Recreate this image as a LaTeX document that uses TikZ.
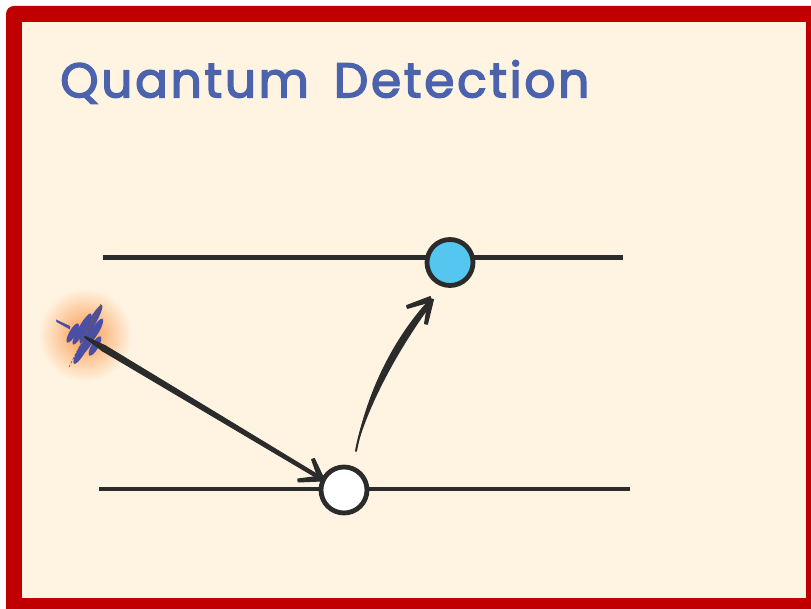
\documentclass[tikz,border=0pt]{standalone}
\usepackage{fontspec}
\usetikzlibrary{arrows.meta,calc}
\newfontfamily\titlefont[FakeBold=3,LetterSpace=5.5,Ligatures=NoCommon,WordSpace=1.6]{Poppins}
\definecolor{paper}{HTML}{FFF4E2}
\definecolor{frame}{HTML}{C00000}
\definecolor{ink}{HTML}{2B2B2B}
\definecolor{titleblue}{HTML}{4A63AC}
\definecolor{packetblue}{HTML}{4A4FA5}
\definecolor{excited}{HTML}{55C6F0}
\definecolor{glow}{HTML}{FA984C}
\tikzset{
  x=0.75pt,y=-0.75pt,
  level/.style={draw=ink,line width=3.4pt},
  atom/.style={circle,draw=ink,line width=3.6pt,minimum size=34.5pt,inner sep=0pt},
  conn/.style={draw=ink,line width=1.5pt,line cap=round},
  barb/.style={-{Straight Barb[length=3pt,width=4pt,line width=1.5pt,round]}},
  wave/.style={fill=packetblue,draw=none},
  hatch/.style={draw=brown!70!black,line width=0.5pt,dash pattern=on 2pt off 1.2pt},
  taper/.style={fill=ink,draw=ink,line width=0.8pt,line join=round},
}
% tapered stroke between two named points: half widths in pt
\newcommand{\taperline}[4]{%
  \path[taper] ($(#1)!#3!90:(#2)$) -- ($(#2)!#4!-90:(#1)$) -- ($(#2)!#4!90:(#1)$) -- ($(#1)!#3!-90:(#2)$) -- cycle;}
\begin{document}
\begin{tikzpicture}
\useasboundingbox (0,0) rectangle (811,609);
\fill[white] (0,0) rectangle (811,609);
\begin{scope}
\clip (0,0) rectangle (811,609);
\fill[frame,rounded corners=6pt] (6,6) rectangle (830,630);
\end{scope}
\fill[paper] (22,22) rectangle (806,598);

\node[anchor=west,text=titleblue,font=\titlefont\fontsize{36.5}{36.5}\selectfont,inner sep=0pt] (title) at (60,82) {Quantum Detection};

% levels
\coordinate (topL) at (103,257.5);
\coordinate (topR) at (623,257.5);
\coordinate (botL) at (99,489);
\coordinate (botR) at (630,489);
\draw[level] (topL) -- (topR);
\draw[level] (botL) -- (botR);

% atoms
\node[atom,fill=excited] (upper) at (450,262.5) {};
\node[atom,fill=white] (lower) at (344,490) {};

% photon glow
\shade[inner color=glow,outer color=paper] (85,335) circle (47);
\coordinate (photon) at (85,337);

% wave packet
\foreach \cx/\cy/\len/\wid in {72.7/333/11/3.4, 82/329/18/3.6, 91/324/22/3.8, 96/330/13/3.6, 82/350/16/3.8, 90/339/18/3.8, 95/346/11/3.6}{
  \fill[wave,rotate around={60:(\cx,\cy)}] (\cx,\cy) ellipse ({\len} and {\wid});
}
\fill[packetblue] (56,319.5) -- (56.5,322) -- (70,329.5) -- (70,326) -- cycle;
\draw[hatch] (101,304) -- (69,367);

% incoming photon
\coordinate (hit) at (321,478.5);
\coordinate (barbA) at (298,480.5);
\coordinate (barbB) at (313,459);
\coordinate (mid) at (104,348.4);
\path[conn,barb] (photon) -- (hit);
\taperline{photon}{mid}{0.4pt}{2.2pt}
\taperline{mid}{hit}{2.2pt}{1.2pt}
\taperline{hit}{barbA}{1.9pt}{1.1pt}
\taperline{hit}{barbB}{1.9pt}{1.1pt}

% excitation
\coordinate (exc) at (356,451);
\coordinate (exctip) at (431,299);
\coordinate (barbC) at (407,307);
\coordinate (barbD) at (426,324);
\path[conn,barb] (exc) .. controls (365,402) and (394,347) .. (exctip);
\fill[ink] (exc) .. controls (364,400) and (390,343) .. (427,302)
  -- (431,305) .. controls (398,350) and (368,405) .. cycle;
\taperline{exctip}{barbC}{1.9pt}{1.1pt}
\taperline{exctip}{barbD}{1.9pt}{1.1pt}
\end{tikzpicture}
\end{document}
